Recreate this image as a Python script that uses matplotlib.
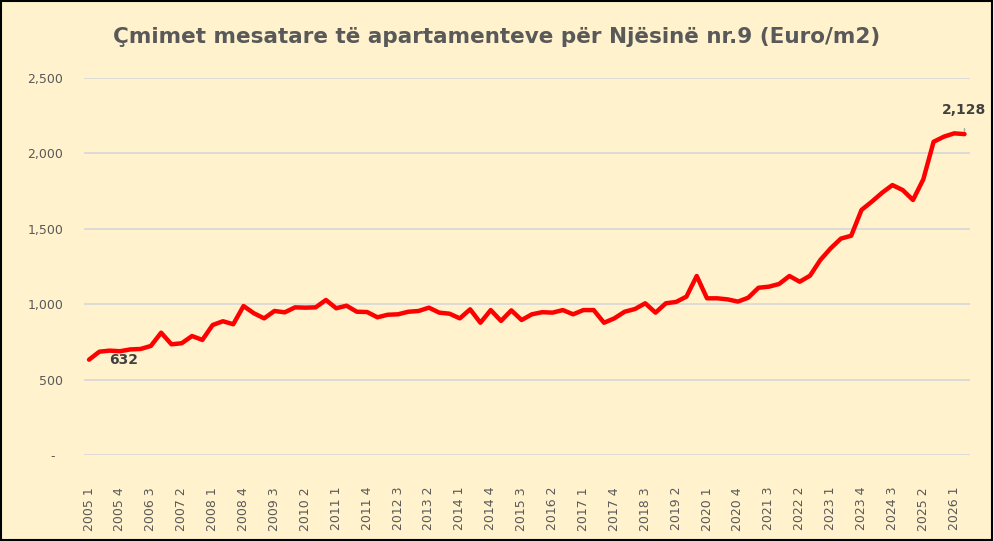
import matplotlib
matplotlib.use('Agg')
import matplotlib.pyplot as plt
from matplotlib.patches import Rectangle
import numpy as np

# quarterly average prices, 2005 Q1 .. 2026 Q2
years = list(range(2005, 2027))
prices = [632, 685, 692, 688, 700, 703, 723, 811, 734, 741,
          789, 763, 862, 887, 867, 988, 940, 906, 955, 946,
          979, 977, 979, 1028, 973, 990, 950, 948, 913, 930,
          933, 950, 955, 977, 944, 937, 906, 966, 877, 961,
          889, 959, 895, 933, 947, 944, 961, 933, 961, 961,
          877, 906, 950, 968, 1006, 944, 1006, 1015, 1050, 1187,
          1039, 1039, 1032, 1017, 1043, 1109, 1116, 1134, 1187, 1149,
          1189, 1293, 1370, 1435, 1454, 1625, 1680, 1739, 1790, 1757,
          1691, 1828, 2077, 2111, 2133, 2128]
quarters = [f"{y} {q}" for y in years for q in range(1, 5)][:len(prices)]

y_ticks = [0, 500, 1000, 1500, 2000, 2500]
y_labels = ['-  ', '500', '1,000', '1,500', '2,000', '2,500']

title = 'Çmimet mesatare të apartamenteve për Njësinë nr.9 (Euro/m2)'

bg = '#FFF2CC'
txt = '#595959'

fig = plt.figure(figsize=(9.94, 5.41), dpi=100, facecolor=bg)
ax = fig.add_axes([0.0844, 0.159, 0.8911, 0.6968])
ax.set_facecolor(bg)

x = np.arange(len(prices))
ax.plot(x, prices, color='#FF0000', lw=3.2, solid_joinstyle='round', solid_capstyle='round', zorder=3)

ax.set_xlim(-0.5, len(prices) - 0.5)
ax.set_ylim(0, 2500)
ax.set_yticks(y_ticks)
ax.set_yticklabels(y_labels)
ax.set_xticks(x[::3])
ax.set_xticklabels(quarters[::3], rotation=90)
ax.tick_params(axis='both', length=0, colors=txt, labelsize=9)
ax.tick_params(axis='y', pad=15)
ax.tick_params(axis='x', pad=23)
ax.grid(axis='y', color='#D9D9D9', lw=1.3)
ax.set_axisbelow(True)
for s in ax.spines.values():
    s.set_visible(False)

ax.annotate(f"{prices[0]:,}", xy=(0, prices[0]), xytext=(25, 0), textcoords='offset points',
            ha='center', va='center', fontsize=10, fontweight='bold', color='#404040')
ax.annotate(f"{prices[-1]:,}", xy=(x[-1], prices[-1]), xytext=(0, 17), textcoords='offset points',
            ha='center', va='center', fontsize=10, fontweight='bold', color='#404040',
            arrowprops=dict(arrowstyle='-', color='#A6A6A6', lw=1, shrinkA=6, shrinkB=2))

fig.text(0.5, 0.932, title, ha='center', va='center', fontsize=15.5, fontweight='bold', color=txt)

fig.patches.append(Rectangle((0.001, 0.002), 0.997, 0.996, transform=fig.transFigure,
                             fill=False, edgecolor='black', lw=1.5))

fig.savefig('out.png', dpi=100, facecolor=bg)
